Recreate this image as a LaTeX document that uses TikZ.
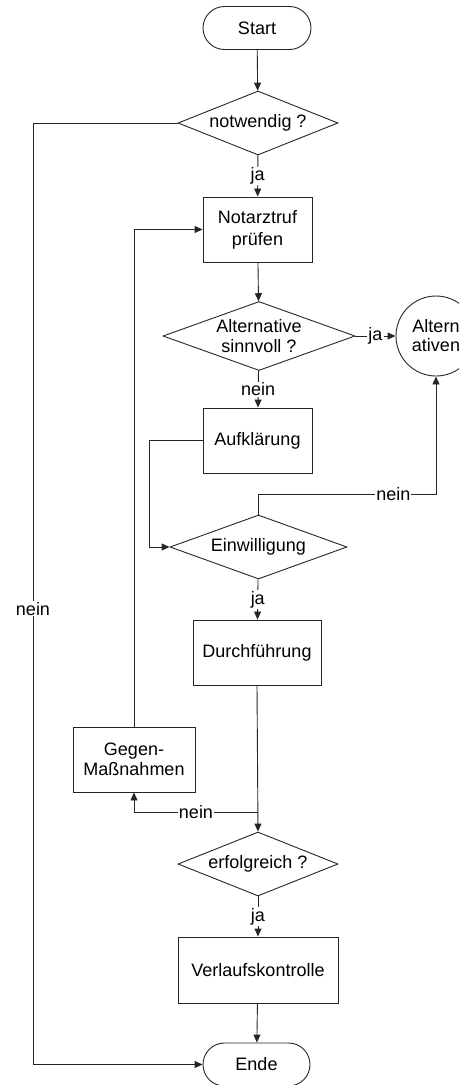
\documentclass[tikz,border=0pt]{standalone}
\usepackage{fontspec}
\setmainfont{Liberation Sans}
\usetikzlibrary{shapes.geometric,shapes.misc,arrows.meta}
\begin{document}
\begin{tikzpicture}[x=1pt,y=-1pt,
  every node/.style={font=\fontsize{18}{21}\selectfont, align=center},
  line/.style={draw=black!85, line width=0.9pt},
  arr/.style={line, -{Triangle[length=8pt,width=7pt]}},
  terminal/.style={rounded rectangle, line, minimum width=#1, minimum height=43pt, inner sep=0pt},
  process/.style={rectangle, line, inner sep=0pt},
  decision/.style={diamond, line, inner sep=0pt},
  connector/.style={circle, line, inner sep=0pt, minimum size=80pt},
  lbl/.style={fill=white, inner sep=1pt}]
\clip (0,0) rectangle (459,1085);

% nodes
\node[terminal=108pt] (start) at (257,28) {Start};
\node[decision, minimum width=160pt, minimum height=64pt, aspect=2.5] (notw) at (258,123) {notwendig ?};
\node[process, minimum width=109pt, minimum height=65pt] (notruf) at (257.5,229.5) {Notarztruf\\[1pt]prüfen};
\node[decision, minimum width=192pt, minimum height=69pt, aspect=2.78,
      font=\fontsize{18}{20}\selectfont] (alt) at (259,336) {Alternative\\sinnvoll ?};
\node[connector, font=\fontsize{18}{19}\selectfont] (altn) at (436,336) {Altern\\ativen};
\node[process, minimum width=109pt, minimum height=65pt] (aufk) at (257.5,440.5) {Aufklärung};
\node[decision, minimum width=177pt, minimum height=64pt, aspect=2.75] (einw) at (258.5,547) {Einwilligung};
\node[process, minimum width=128pt, minimum height=65pt] (durch) at (257,652.5) {Durchführung};
\node[process, minimum width=122pt, minimum height=65pt,
      font=\fontsize{18}{20}\selectfont] (gegen) at (134,759.5) {Gegen-\\Maßnahmen};
\node[decision, minimum width=160pt, minimum height=64pt, aspect=2.5] (erfol) at (258,864) {erfolgreich ?};
\node[process, minimum width=160pt, minimum height=66pt] (verl) at (258,970) {Verlaufskontrolle};
\node[terminal=107pt] (ende) at (256.5,1064.5) {Ende};

% helper points for routed connectors
\coordinate (leftrail) at (33,123);
\coordinate (aufkbend) at (149,440.5);
\coordinate (nobend) at (436,494);
\coordinate (split) at (258,812);

% connectors
\draw[arr] (start) -- (notw);
\draw[arr] (notw) -- node[lbl]{ja} (notruf);
\draw[arr] (notw.west) -- (leftrail) -- node[lbl, pos=0.516]{nein} (leftrail |- ende.west) -- (ende.west);
\draw[arr] (notruf) -- (alt);
\draw[arr] (alt.east) -- node[lbl]{ja} (altn.west);
\draw[arr] (alt) -- node[lbl]{nein} (aufk);
\draw[arr] (aufk.west) -- (aufkbend) |- (einw.west);
\draw[arr] (einw.north) |- node[lbl, pos=0.88]{nein} (nobend) -- (altn.south);
\draw[arr] (einw) -- node[lbl]{ja} (durch);
\draw[arr] (durch.south) -- (erfol.north);
\draw[arr] (split) -| node[lbl, pos=0.25]{nein} (gegen.south);
\draw[arr] (gegen.north) |- (notruf.west);
\draw[arr] (erfol) -- node[lbl]{ja} (verl);
\draw[arr] (verl) -- (ende);
\end{tikzpicture}
\end{document}
